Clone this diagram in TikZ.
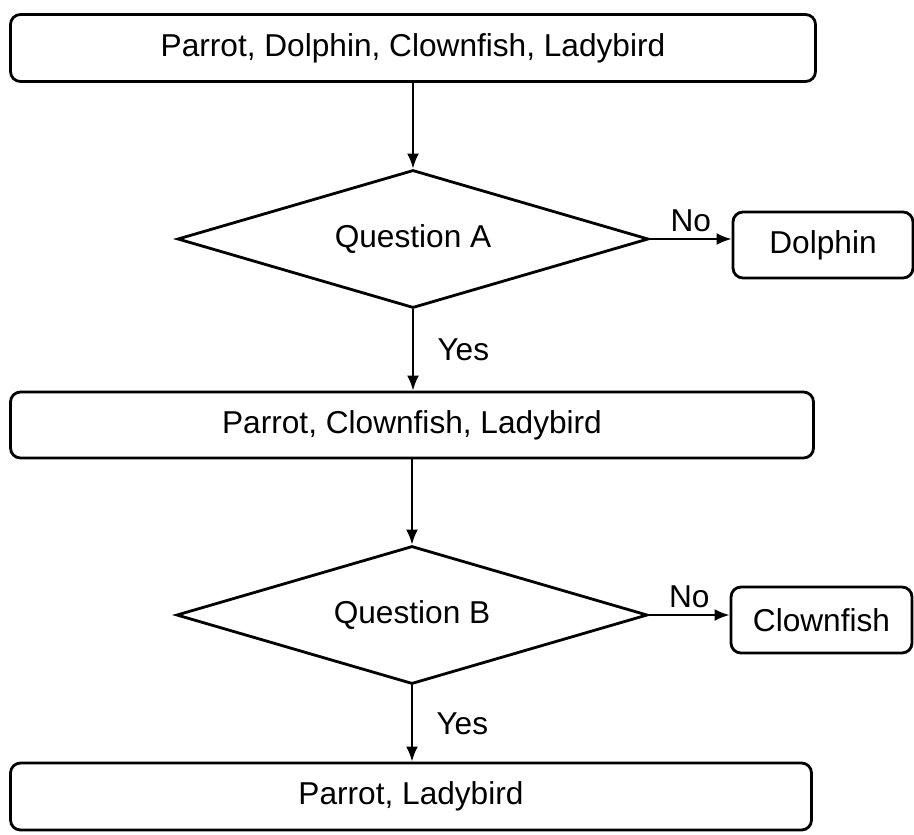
\documentclass[tikz,border=0pt]{standalone}
\usepackage{fontspec}
\setmainfont{Liberation Sans}
\usetikzlibrary{shapes.geometric,arrows.meta}
\tikzset{
  listbox/.style={draw,line width=1.6pt,rounded corners=0.2cm,inner sep=0pt,minimum height=1.34cm},
  question/.style={draw,diamond,aspect=3.4,line width=1.6pt,inner sep=0pt,minimum width=9.42cm,minimum height=2.76cm},
  flow/.style={line width=1.3pt,-{Latex[length=0.3cm,width=0.24cm]}},
}
\begin{document}
\begin{tikzpicture}[font=\fontsize{18}{21}\selectfont]
  \useasboundingbox (0,0) rectangle (18.28,-16.68);
  % boxes down the middle
  \node[listbox,minimum width=16.1cm] (all) at (8.26,-0.96) {Parrot, Dolphin, Clownfish, Ladybird};
  \node[question] (qA) at (8.26,-4.78) {Question A};
  \node[listbox,minimum width=3.6cm,minimum height=1.32cm] (dolphin) at (16.46,-4.90) {Dolphin};
  \node[listbox,minimum width=16.06cm,minimum height=1.32cm] (three) at (8.24,-8.50) {Parrot, Clownfish, Ladybird};
  \node[question] (qB) at (8.24,-12.30) {Question B};
  \node[listbox,minimum width=3.62cm,minimum height=1.32cm] (clown) at (16.43,-12.40) {Clownfish};
  \node[listbox,minimum width=16.02cm] (two) at (8.22,-15.93) {Parrot, Ladybird};
  % arrows
  \draw[flow] (all.south) -- (all.south |- qA.north);
  \draw[flow] (qA.east) -- node[above] (noA) {No} (qA.east -| dolphin.west);
  \draw[flow] (qA.south) -- node[right=0.35cm] (yesA) {Yes} (qA.south |- three.north);
  \draw[flow] (three.south) -- (three.south |- qB.north);
  \draw[flow] (qB.east) -- node[above] (noB) {No} (qB.east -| clown.west);
  \draw[flow] (qB.south) -- node[right=0.35cm] (yesB) {Yes} (qB.south |- two.north);
\end{tikzpicture}
\end{document}
